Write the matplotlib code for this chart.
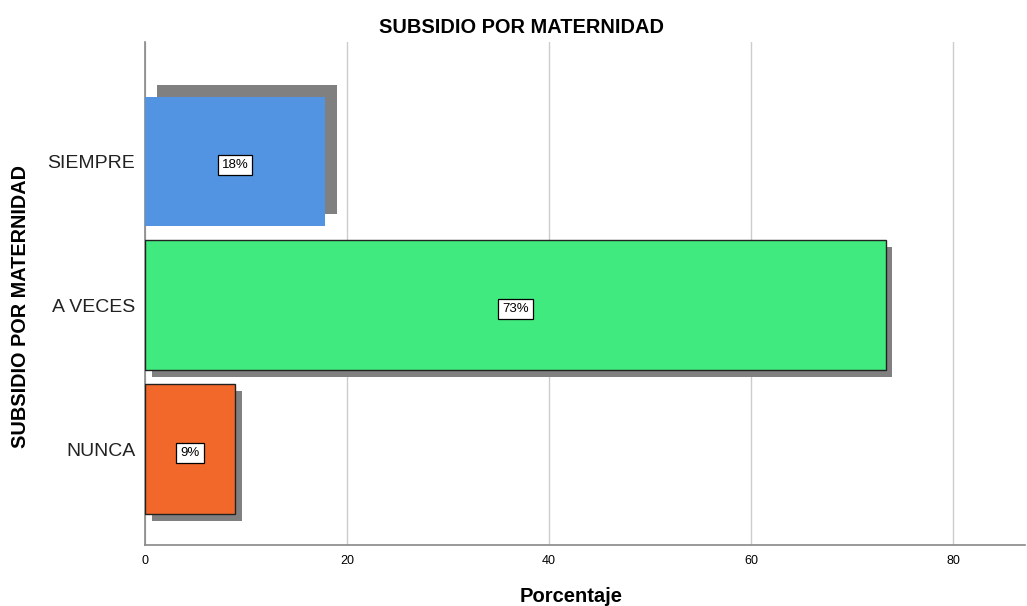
import matplotlib
matplotlib.use('Agg')
import matplotlib.pyplot as plt
import matplotlib.patheffects as pe

categorias = ['NUNCA', 'A VECES', 'SIEMPRE']
porcentajes = [8.9, 73.3, 17.8]
etiquetas = ['9%', '73%', '18%']
colores = ['#F2682A', '#41EA7E', '#5294E2']
bordes = ['#222222', '#222222', 'none']
# SPSS draws the shadow of the top bar shifted up, the others down
sombras = [(5, -5), (5, -5), (8.6, 8.6)]
xticks = [0, 20, 40, 60, 80]

plt.rcParams['font.family'] = ['Liberation Sans', 'DejaVu Sans']

fig = plt.figure(figsize=(10.27, 6.06), dpi=100)
ax = fig.add_axes([0.1412, 0.1007, 0.8568, 0.83])

pos = list(range(len(categorias)))
for i in pos:
    bar = ax.barh(pos[i], porcentajes[i], height=0.9, color=colores[i],
                  edgecolor=bordes[i], linewidth=1.0, zorder=3)
    bar[0].set_path_effects([
        pe.SimplePatchShadow(offset=sombras[i], shadow_rgbFace='#808080', alpha=1.0),
        pe.Normal()])
    ax.text(porcentajes[i] / 2, pos[i] - 0.025, etiquetas[i], ha='center', va='center',
            fontsize=9.5, zorder=5,
            bbox=dict(boxstyle='square,pad=0.3', facecolor='white',
                      edgecolor='black', linewidth=0.9))

ax.set_xlim(0, 87.1)
ax.set_ylim(-0.667, 2.83)
ax.set_xticks(xticks)
ax.set_yticks(pos)
ax.set_yticklabels(categorias, fontsize=14, color='#222222')
ax.tick_params(axis='x', labelsize=9, length=0, pad=7)
ax.tick_params(axis='y', length=0, pad=7)

ax.grid(axis='x', color='#cccccc', linewidth=1.0)
ax.set_axisbelow(True)
for s in ['top', 'right']:
    ax.spines[s].set_visible(False)
for s in ['left', 'bottom']:
    ax.spines[s].set_color('#888888')
    ax.spines[s].set_linewidth(1.2)

fig.text(0.508, 0.955, 'SUBSIDIO POR MATERNIDAD', fontsize=14.4, fontweight='bold',
         ha='center', va='center')
fig.text(0.556, 0.016, 'Porcentaje', fontsize=14.5, fontweight='bold',
         ha='center', va='center')
fig.text(0.02, 0.495, 'SUBSIDIO POR MATERNIDAD', fontsize=14.3, fontweight='bold',
         ha='center', va='center', rotation=90)

fig.savefig('out.png', dpi=100)
